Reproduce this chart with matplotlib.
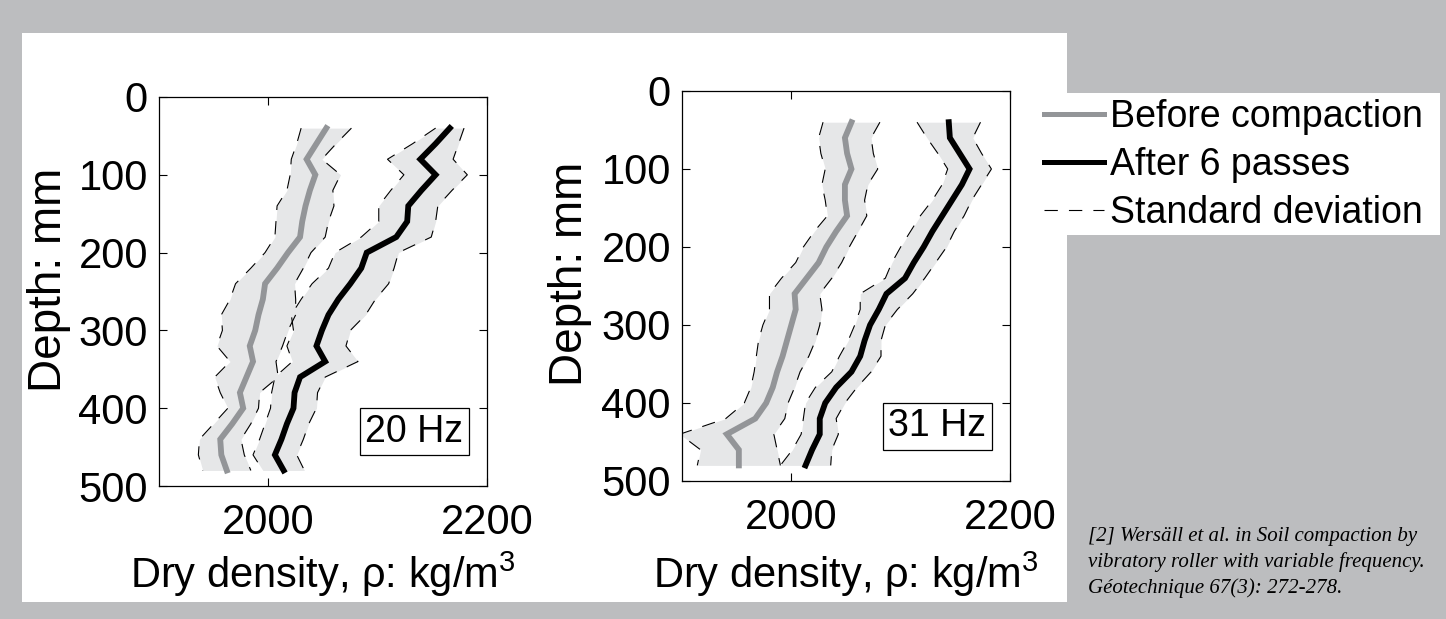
import matplotlib.pyplot as plt
import matplotlib.transforms as mtransforms
from matplotlib.lines import Line2D
from matplotlib.patches import Rectangle

plt.rcParams['font.family'] = ['Liberation Sans', 'DejaVu Sans']
plt.rcParams['mathtext.fontset'] = 'custom'
plt.rcParams['mathtext.rm'] = 'Liberation Sans'

# depth of each measurement (mm)
depth = [40, 60, 80, 100, 120, 140, 160, 180, 200, 220, 240, 260,
         280, 300, 320, 340, 360, 380, 400, 420, 440, 460, 480]

# 20 Hz - dry density (kg/m3), mean and standard deviation
before_20 = [2053, 2044, 2035, 2043, 2038, 2034, 2031, 2029, 2018, 2008, 1997, 1995,
             1991, 1988, 1983, 1986, 1980, 1974, 1977, 1967, 1956, 1957, 1962]
before_20_sd = [23, 18, 14, 23, 21, 26, 24, 23, 21, 24, 27, 30,
                34, 30, 30, 21, 29, 18, 14, 17, 19, 21, 22]
after_20 = [2166, 2153, 2139, 2153, 2140, 2128, 2127, 2117, 2090, 2085, 2075, 2064,
            2055, 2049, 2044, 2052, 2029, 2024, 2023, 2017, 2012, 2006, 2014]
after_20_sd = [13, 21, 30, 29, 28, 27, 26, 32, 29, 30, 35, 34,
               34, 26, 27, 30, 23, 21, 21, 20, 20, 20, 19]

# 31 Hz
before_31 = [2055, 2049, 2051, 2055, 2049, 2049, 2051, 2041, 2032, 2025, 2014, 2003,
             2004, 2000, 1996, 1992, 1987, 1983, 1977, 1967, 1941, 1952, 1952]
before_31_sd = [26, 24, 24, 24, 21, 18, 18, 20, 21, 21, 23, 23,
                24, 26, 26, 24, 21, 20, 20, 27, 43, 35, 38]
after_31 = [2144, 2145, 2154, 2163, 2156, 2147, 2138, 2129, 2121, 2112, 2104, 2087,
            2080, 2072, 2067, 2063, 2055, 2041, 2031, 2026, 2026, 2019, 2013]
after_31_sd = [29, 21, 20, 20, 18, 18, 20, 20, 21, 20, 18, 24,
               17, 14, 15, 19, 18, 19, 18, 15, 17, 18, 23]

GRIS = '#939598'
BANDA = '#e6e7e8'
FONDO = '#bcbdbf'
W, H = 1446, 619


def perfil(ax, media, sd, color):
    low = [m - s for m, s in zip(media, sd)]
    high = [m + s for m, s in zip(media, sd)]
    ax.fill_betweenx(depth, low, high, color=BANDA, lw=0)
    ax.plot(low, depth, color='black', lw=0.8, ls=(0, (12, 10)))
    ax.plot(high, depth, color='black', lw=0.8, ls=(0, (12, 10)))
    ax.plot(media, depth, color=color, lw=4.2, solid_joinstyle='miter')


def panel(rect, datos, etiqueta, ylab_x):
    ax = fig.add_axes(rect)
    for media, sd, color in datos:
        perfil(ax, media, sd, color)
    ax.set_xlim(1900, 2200)
    ax.set_ylim(500, 0)
    ax.set_xticks([2000, 2200])
    ax.set_yticks(range(0, 501, 100))
    ax.tick_params(direction='in', top=True, right=True, length=6, width=0.8,
                   labelsize=30)
    ax.tick_params(axis='x', pad=12)
    ax.tick_params(axis='y', pad=8)
    for s in ax.spines.values():
        s.set_linewidth(0.9)
    ax.set_xlabel(r'Dry density, ρ: kg/m$^3$', fontsize=30, va='top')
    ax.xaxis.set_label_coords(0.5, 1 - 550 / H,
                              transform=mtransforms.blended_transform_factory(
                                  ax.transAxes, fig.transFigure))
    ax.set_ylabel('Depth: mm', fontsize=33, va='center')
    ax.yaxis.set_label_coords(ylab_x / W, 0.531,
                              transform=mtransforms.blended_transform_factory(
                                  fig.transFigure, ax.transAxes))
    ax.text(0.778, 0.14, etiqueta, transform=ax.transAxes, fontsize=27,
            ha='center', va='center',
            bbox=dict(boxstyle='square,pad=0.15', fc='white', ec='black', lw=0.9))
    return ax


fig = plt.figure(figsize=(W / 100, H / 100), dpi=100, facecolor=FONDO)
fig.patches.append(Rectangle((22 / W, 1 - 602 / H), 1045 / W, 569 / H,
                             transform=fig.transFigure, fc='white', ec='none', zorder=-2))
fig.patches.append(Rectangle((1067 / W, 1 - 235 / H), 373 / W, 142 / H,
                             transform=fig.transFigure, fc='white', ec='none', zorder=-2))

panel([159 / W, 1 - 486 / H, 328 / W, 389 / H],
      [(before_20, before_20_sd, GRIS), (after_20, after_20_sd, 'black')], '20 Hz', 49)
panel([682 / W, 1 - 481 / H, 328 / W, 390 / H],
      [(before_31, before_31_sd, GRIS), (after_31, after_31_sd, 'black')], '31 Hz', 570)

handles = [Line2D([], [], color=GRIS, lw=3.6),
           Line2D([], [], color='black', lw=3.6),
           Line2D([], [], color='black', lw=0.8, ls=(0, (12, 10)))]
fig.legend(handles, ['Before compaction', 'After 6 passes', 'Standard deviation'],
           loc='upper left', bbox_to_anchor=(1044 / W, 1 - 99 / H), frameon=False,
           fontsize=27, handlelength=1.6, handletextpad=0.15, labelspacing=0.32,
           borderpad=0, borderaxespad=0)

fig.text(1088 / W, 1 - 527 / H,
         '[2] Wersäll et al. in Soil compaction by\n'
         'vibratory roller with variable frequency.\n'
         'Géotechnique 67(3): 272-278.',
         family='Liberation Serif', style='italic', fontsize=15,
         linespacing=1.42, va='top', ha='left')

fig.savefig('out.png', dpi=100, facecolor=FONDO)
